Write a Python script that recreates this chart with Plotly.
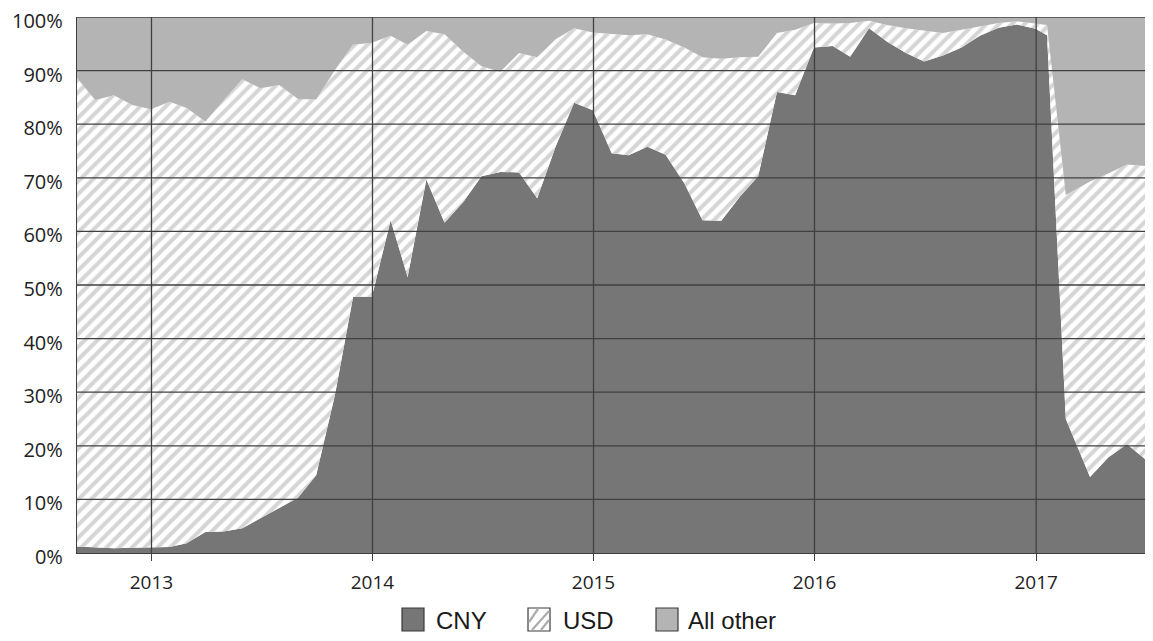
import plotly.graph_objects as go

dates = [
    "2012-08-31", "2012-09-30", "2012-10-31", "2012-11-30", "2012-12-31",
    "2013-01-31", "2013-02-28", "2013-03-31", "2013-04-30", "2013-05-31",
    "2013-06-30", "2013-07-31", "2013-08-31", "2013-09-30", "2013-10-31",
    "2013-11-30", "2013-12-31", "2014-01-31", "2014-02-28", "2014-03-31",
    "2014-04-30", "2014-05-31", "2014-06-30", "2014-07-31", "2014-08-31",
    "2014-09-30", "2014-10-31", "2014-11-30", "2014-12-31", "2015-01-31",
    "2015-02-28", "2015-03-31", "2015-04-30", "2015-05-31", "2015-06-30",
    "2015-07-31", "2015-08-31", "2015-09-30", "2015-10-31", "2015-11-30",
    "2015-12-31", "2016-01-31", "2016-02-29", "2016-03-31", "2016-04-30",
    "2016-05-31", "2016-06-30", "2016-07-31", "2016-08-31", "2016-09-30",
    "2016-10-31", "2016-11-30", "2016-12-31", "2017-01-19", "2017-02-19",
    "2017-03-31", "2017-04-30", "2017-05-31", "2017-06-30", "2017-07-31",
]

cny = [
    1.2, 1.0, 0.9, 1.0, 1.1,
    1.1, 1.8, 3.9, 4.0, 4.6,
    6.5, 8.4, 10.3, 14.5, 29.5,
    47.8, 47.8, 62.1, 51.5, 69.7,
    61.6, 65.5, 70.3, 71.1, 71.0,
    66.2, 76.0, 84.0, 82.6, 74.6,
    74.2, 75.8, 74.3, 69.0, 62.1,
    62.0, 66.5, 70.3, 86.0, 85.4,
    94.3, 94.6, 92.6, 97.9, 95.4,
    93.3, 91.7, 92.8, 94.3, 96.5,
    98.0, 98.6, 97.8, 96.6, 25.0,
    14.2, 17.8, 20.3, 17.5, 13.5,
]

usd = [
    87.4, 83.5, 84.5, 82.6, 81.7,
    83.1, 81.2, 76.6, 80.4, 83.8,
    80.2, 78.9, 74.4, 70.1, 60.6,
    47.0, 47.4, 34.4, 43.3, 27.7,
    35.2, 28.0, 20.5, 18.7, 22.3,
    26.3, 19.9, 13.9, 14.5, 22.3,
    22.4, 21.0, 21.5, 25.3, 30.4,
    30.2, 26.0, 22.3, 11.0, 12.2,
    4.6, 4.2, 6.3, 1.4, 3.1,
    4.6, 5.7, 4.2, 3.3, 1.7,
    0.9, 0.6, 1.0, 1.9, 41.8,
    55.1, 53.0, 52.2, 54.7, 59.8,
]

other = [
    11.4, 15.5, 14.6, 16.4, 17.2,
    15.8, 17.0, 19.5, 15.6, 11.6,
    13.3, 12.7, 15.3, 15.4, 9.9,
    5.2, 4.8, 3.5, 5.2, 2.6,
    3.2, 6.5, 9.2, 10.2, 6.7,
    7.5, 4.1, 2.1, 2.9, 3.1,
    3.4, 3.2, 4.2, 5.7, 7.5,
    7.8, 7.5, 7.4, 3.0, 2.4,
    1.1, 1.2, 1.1, 0.7, 1.5,
    2.1, 2.6, 3.0, 2.4, 1.8,
    1.1, 0.8, 1.2, 1.5, 33.2,
    30.7, 29.2, 27.5, 27.8, 26.7,
]

series_names = ["CNY", "USD", "All other"]
year_ticks = ["2013-01-01", "2014-01-01", "2015-01-01", "2016-01-01", "2017-01-01"]
year_labels = ["2013", "2014", "2015", "2016", "2017"]
pct_ticks = list(range(0, 101, 10))
pct_labels = [f"{v}%" for v in pct_ticks]

# ---- style ----
OFF = 8  # page body margin
W, H = 1153, 641
ML, MR, MT, MB = 77 - OFF, OFF, 17 - OFF, 88 + OFF
DARK = "#767676"
LIGHT = "#b4b4b4"
HATCH = "#acacac"
GRID = "#404040"

fig = go.Figure()
fig.add_trace(go.Scatter(
    x=dates, y=cny, name=series_names[0], stackgroup="one", mode="lines",
    line=dict(width=0, color=DARK), fillcolor=DARK, showlegend=False,
))
fig.add_trace(go.Scatter(
    x=dates, y=usd, name=series_names[1], stackgroup="one", mode="lines",
    line=dict(width=0, color="white"), fillcolor="white",
    fillpattern=dict(shape="/", fgcolor=HATCH, bgcolor="white", size=9, solidity=0.45),
    showlegend=False,
))
fig.add_trace(go.Scatter(
    x=dates, y=other, name=series_names[2], stackgroup="one", mode="lines",
    line=dict(width=0, color=LIGHT), fillcolor=LIGHT, showlegend=False,
))

shapes = []
# gridlines drawn above the areas
for v in pct_ticks[1:]:
    shapes.append(dict(type="line", xref="paper", yref="y", x0=0, x1=1, y0=v, y1=v,
                       line=dict(color=GRID, width=1.3), layer="above"))
for d in year_ticks:
    shapes.append(dict(type="line", xref="x", yref="paper", x0=d, x1=d, y0=0, y1=1,
                       line=dict(color=GRID, width=1.3), layer="above"))

# manual legend (coordinates given in screen pixels)
pw = W - ML - MR
ph = H - MT - MB
def px(xp):
    return (xp - OFF - ML) / pw
def py(yp):
    return (H - MB - (yp - OFF)) / ph

leg_y0, leg_y1 = 608, 631
boxes = [(402, 424, DARK), (528, 550, "white"), (656, 678, LIGHT)]
for (x0, x1, col) in boxes:
    shapes.append(dict(type="rect", xref="paper", yref="paper",
                       x0=px(x0), x1=px(x1), y0=py(leg_y1), y1=py(leg_y0),
                       fillcolor=col, line=dict(color="#3a3a3a", width=1.2), layer="above"))
for (ax0, ay0, ax1, ay1) in [(529, 622, 538, 609), (532, 630, 549, 611), (541, 630, 549, 620)]:
    shapes.append(dict(type="line", xref="paper", yref="paper",
                       x0=px(ax0), y0=py(ay0), x1=px(ax1), y1=py(ay1),
                       line=dict(color=HATCH, width=2.2), layer="above"))

annotations = []
for name, xl in zip(series_names, [434, 561, 686]):
    annotations.append(dict(text=name, xref="paper", yref="paper", x=px(xl), y=py(620),
                            xanchor="left", yanchor="middle", showarrow=False,
                            font=dict(family="Liberation Sans, Arial", size=24, color="#1a1a1a")))

fig.update_layout(
    width=W, height=H,
    margin=dict(l=ML, r=MR, t=MT, b=MB, pad=0, autoexpand=False),
    paper_bgcolor="white", plot_bgcolor="white",
    showlegend=False,
    shapes=shapes, annotations=annotations,
    font=dict(family="Open Sans, sans-serif", size=20, color="#222222"),
    xaxis=dict(
        type="date", range=["2012-08-31", "2017-07-13"],
        tickvals=year_ticks, ticktext=year_labels,
        showgrid=False, zeroline=False, automargin=False,
        showline=True, linecolor=GRID, linewidth=1.3,
        ticks="outside", ticklen=7, tickwidth=1.3, tickcolor=GRID,
        ticklabelstandoff=5, layer="above traces",
        tickfont=dict(size=19),
    ),
    yaxis=dict(
        range=[0, 100], tickvals=pct_ticks, ticktext=pct_labels,
        showgrid=False, zeroline=False, automargin=False,
        showline=True, linecolor=GRID, linewidth=1.3,
        ticks="", ticklabelstandoff=9, ticklabeloverflow="allow",
        ticklabelshift=4,
        layer="above traces",
        tickfont=dict(size=20),
    ),
)

fig.write_html("out.html")
